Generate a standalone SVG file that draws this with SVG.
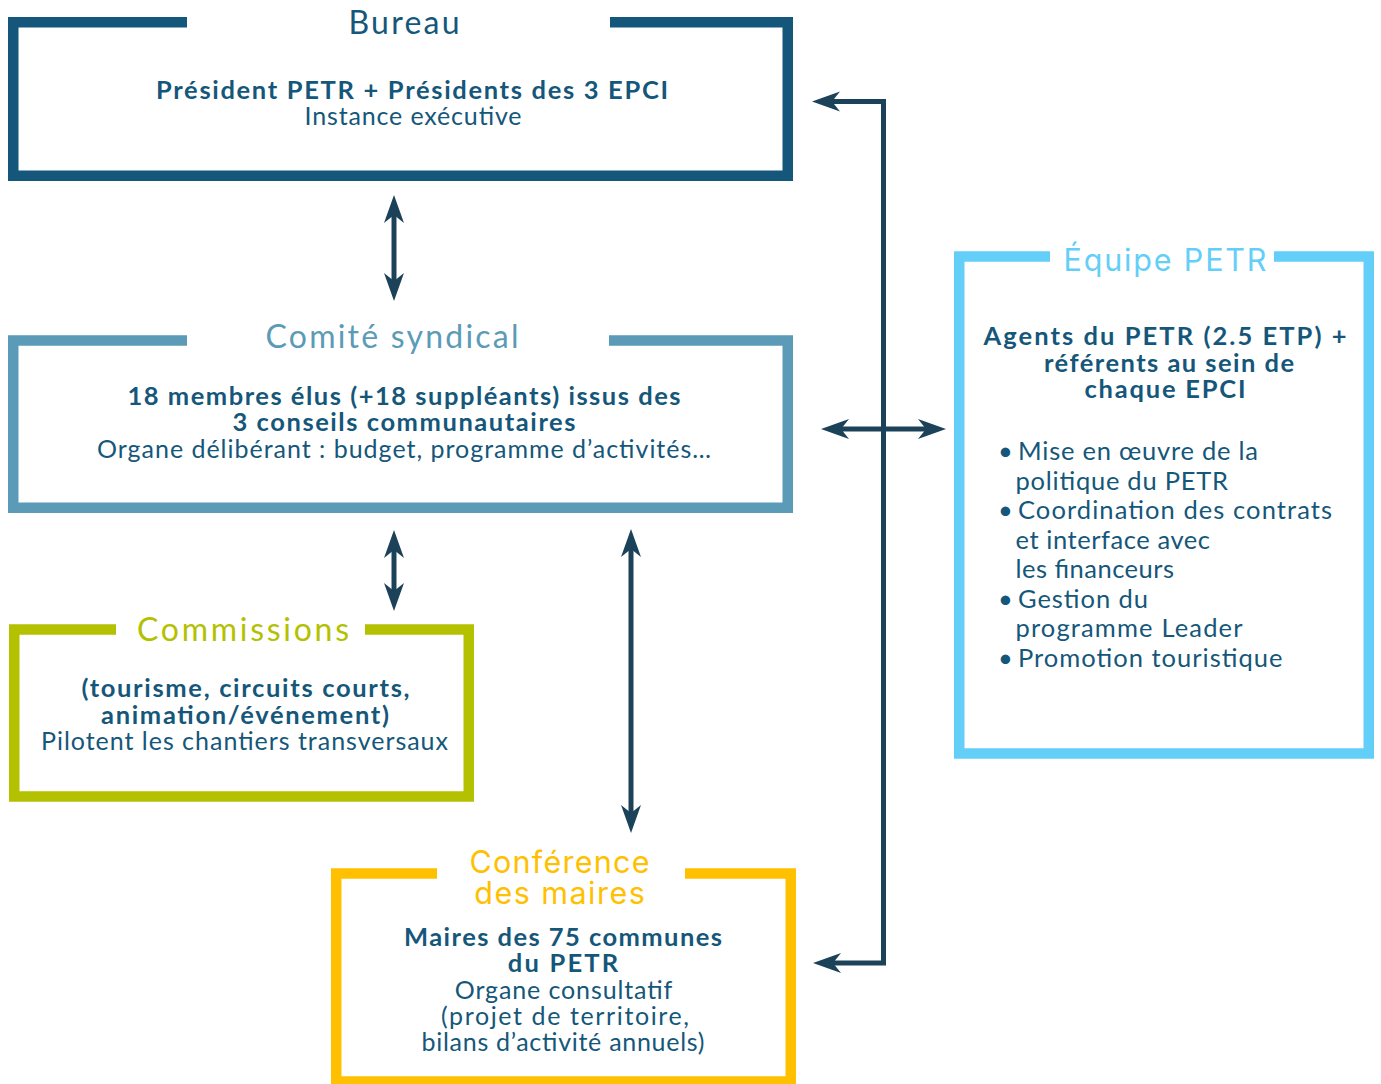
<svg xmlns="http://www.w3.org/2000/svg" width="1381" height="1084" viewBox="0 0 1381 1084">
<style>
.frame{fill:none;stroke-width:10.5;stroke-linejoin:miter;stroke-linecap:butt}
.t{font-family:"Lato","Liberation Sans",sans-serif;text-anchor:middle;fill:#15577a}
.b{font-weight:700;font-size:25.5px}
.r{font-weight:400;font-size:25px}
.h{font-family:"Lato","Liberation Sans",sans-serif;font-size:32px;text-anchor:middle}
.hm{font-family:"Inter","Liberation Sans",sans-serif;font-size:30.5px;text-anchor:middle}
.li{font-family:"Lato","Liberation Sans",sans-serif;font-size:25.5px;fill:#15577a}
.c{fill:none;stroke:#1c4259;stroke-width:5;marker-start:url(#ah);marker-end:url(#ah)}
</style>
<defs>
<marker id="ah" markerUnits="userSpaceOnUse" viewBox="0 -11 30 22" markerWidth="30" markerHeight="22" refX="10" refY="0" orient="auto-start-reverse">
<path d="M0,-10 L28,0 L0,10 L8,0 Z" fill="#1c4259"/>
</marker>
</defs>
<rect width="1381" height="1084" fill="#ffffff"/>

<g id="bureau">
<path class="frame" stroke="#14577a" d="M187,22.25 H13.25 V175.75 H787.75 V22.25 H610"/>
<text class="h" x="404" y="34" fill="#14577a" textLength="111">Bureau</text>
<text class="t b" x="412" y="99" textLength="512">Président PETR + Présidents des 3 EPCI</text>
<text class="t r" x="413" y="124.5" textLength="217">Instance exécutive</text>
</g>

<g id="comite">
<path class="frame" stroke="#5b9bb7" d="M187,340.5 H13.25 V507.75 H787.75 V340.5 H609"/>
<text class="h" x="392" y="347.5" fill="#5b9bb7" textLength="253">Comité syndical</text>
<text class="t b" x="404" y="405" textLength="553">18 membres élus (+18 suppléants) issus des</text>
<text class="t b" x="404" y="431" textLength="343">3 conseils communautaires</text>
<text class="t r" x="404" y="458" textLength="614">Organe délibérant : budget, programme d’activités…</text>
</g>

<g id="commissions">
<path class="frame" stroke="#b4c100" d="M116,629.5 H14.25 V796.5 H468.75 V629.5 H365"/>
<text class="h" x="243" y="641" fill="#b4c100" textLength="212">Commissions</text>
<text class="t b" x="245.5" y="697" textLength="328">(tourisme, circuits courts,</text>
<text class="t b" x="245" y="723.5" textLength="288">animation/événement)</text>
<text class="t r" x="244.5" y="750" textLength="407">Pilotent les chantiers transversaux</text>
</g>

<g id="equipe">
<path class="frame" stroke="#63cff8" d="M1050,256.5 H959.25 V753.5 H1368.75 V256.5 H1274"/>
<text class="hm" x="1165" y="270.5" fill="#63cff8" textLength="203">Équipe PETR</text>
<text class="t b" x="1165" y="345" textLength="363">Agents du PETR (2.5 ETP) +</text>
<text class="t b" x="1169" y="371.5" textLength="250">référents au sein de</text>
<text class="t b" x="1165" y="398" textLength="161">chaque EPCI</text>
<text class="li" x="998" y="460">•<tspan x="1018" textLength="240">Mise en œuvre de la</tspan></text>
<text class="li" x="1015.5" y="489.5" textLength="212.5">politique du PETR</text>
<text class="li" x="998" y="519">•<tspan x="1018" textLength="314">Coordination des contrats</tspan></text>
<text class="li" x="1015.5" y="548.5" textLength="194.5">et interface avec</text>
<text class="li" x="1015.5" y="578" textLength="158.5">les financeurs</text>
<text class="li" x="998" y="607.5">•<tspan x="1018" textLength="130">Gestion du</tspan></text>
<text class="li" x="1015.5" y="637" textLength="227">programme Leader</text>
<text class="li" x="998" y="666.5">•<tspan x="1018" textLength="264.5">Promotion touristique</tspan></text>
</g>

<g id="conference">
<path class="frame" stroke="#ffc000" d="M437,873.5 H336.25 V1081.5 H790.75 V873.5 H685"/>
<text class="hm" x="559.5" y="872.5" fill="#ffc000" textLength="180">Conférence</text>
<text class="hm" x="559.5" y="903.5" fill="#ffc000" textLength="170.5">des maires</text>
<text class="t b" x="563" y="945.5" textLength="318">Maires des 75 communes</text>
<text class="t b" x="563" y="972" textLength="110.5">du PETR</text>
<text class="t r" x="563.5" y="998.5" textLength="217.5">Organe consultatif</text>
<text class="t r" x="565" y="1025" textLength="248">(projet de territoire,</text>
<text class="t r" x="563" y="1051" textLength="283">bilans d’activité annuels)</text>
</g>

<g id="connectors">
<line class="c" x1="394" y1="213" x2="394" y2="283"/>
<line class="c" x1="394" y1="548" x2="394" y2="593"/>
<line class="c" x1="631" y1="547" x2="631" y2="815"/>
<path class="c" d="M830,101.5 H883.5 V963 H831"/>
<line class="c" x1="839" y1="429" x2="928" y2="429"/>
</g>
</svg>
